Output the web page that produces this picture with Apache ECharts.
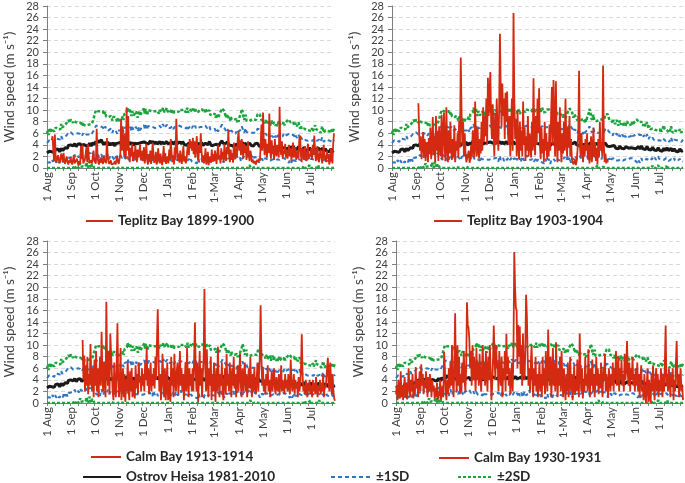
<!DOCTYPE html>
<html>
<head>
<meta charset="utf-8">
<script src="https://cdn.jsdelivr.net/npm/echarts@6/dist/echarts.min.js"></script>
<style>
  html, body { margin: 0; padding: 0; background: #fff; }
  #main { width: 685px; height: 483px; }
</style>
</head>
<body>
<div id="main"></div>
<script>
const _ = null;

// x axis: one category per day, 1 Aug .. 31 Jul
const monthStarts = [0, 31, 61, 92, 122, 153, 184, 212, 243, 273, 304, 334];
const monthLabels = ['1 Aug', '1 Sep', '1 Oct', '1 Nov', '1 Dec', '1 Jan', '1 Feb', '1-Mar', '1 Apr', '1 May', '1 Jun', '1 Jul'];
const yTicks = [0, 28, 2]; // min, max, step

// Ostrov Heisa 1981-2010 daily mean wind speed
const heisaMean = [
  2.6,2.8,2.5,2.9,3.0,2.7,2.8,3.1,2.9,2.7,3.0,3.2,2.9,3.1,3.3,3.0,2.8,3.1,3.4,3.2,3.0,3.3,3.1,3.5,3.2,3.6,3.4,3.9,4.1,3.8,4.0, // Aug
  3.9,4.1,3.8,4.0,4.2,3.9,3.7,4.0,4.1,3.8,3.9,4.2,4.0,3.7,3.9,4.1,3.8,4.0,3.9,4.2,4.0,3.8,4.1,4.3,4.0,3.8,4.1,4.4,4.2,4.0, // Sep
  4.3,4.6,4.2,4.5,4.8,4.4,4.1,4.6,4.9,4.5,4.2,4.0,4.4,4.7,4.3,4.1,4.5,4.2,3.9,4.3,4.6,4.2,4.0,4.4,4.1,3.8,4.2,4.0,3.9,4.3,4.1, // Oct
  4.0,4.4,4.2,3.9,4.3,4.1,4.5,4.2,4.0,4.6,4.8,4.4,4.1,4.5,4.3,4.0,4.4,4.2,3.9,4.3,4.1,4.4,4.2,3.9,4.1,4.3,4.0,4.2,4.4,4.1, // Nov
  4.3,4.5,4.2,4.6,4.3,4.1,4.4,4.2,4.5,4.7,4.3,4.1,4.4,4.6,4.2,4.0,4.3,4.5,4.1,4.4,4.2,4.6,4.3,4.1,4.5,4.8,4.4,4.2,4.5,4.3,4.6, // Dec
  4.2,4.4,4.1,4.3,4.0,4.2,4.5,4.1,3.9,4.3,4.6,4.4,4.2,4.0,4.3,4.5,4.8,4.4,4.2,4.6,4.3,4.1,4.4,4.2,3.9,4.2,4.0,4.3,4.1,4.4,4.2, // Jan
  4.0,4.3,4.1,3.9,4.2,4.0,3.8,4.1,4.3,4.0,3.9,4.2,4.4,4.1,3.9,4.2,4.0,4.3,4.5,4.2,4.0,4.3,4.6,4.2,4.0,3.8,4.1,3.9, // Feb
  4.0,4.2,3.9,4.1,4.4,4.0,3.8,4.2,4.5,4.1,4.7,4.3,4.0,4.4,4.2,3.9,4.1,4.5,4.2,4.0,3.8,4.1,3.9,4.2,4.0,3.7,4.0,3.8,4.1,3.9,4.2, // Mar
  4.0,4.3,4.1,3.9,4.2,4.4,4.1,3.9,4.3,4.6,4.2,4.0,3.8,4.1,4.3,4.0,3.9,4.2,4.1,3.8,4.0,4.2,3.9,4.1,4.3,4.0,3.8,4.1,3.9,3.7, // Apr
  3.9,3.6,3.8,3.5,3.7,3.9,3.6,3.4,3.7,3.5,3.3,3.6,3.8,3.5,3.4,3.7,3.5,3.3,3.6,3.4,3.7,3.9,3.6,3.4,3.3,3.6,3.5,3.8,3.6,3.4,3.7, // May
  3.5,3.3,3.6,3.4,3.7,3.5,3.3,3.6,3.8,3.5,3.3,3.6,3.4,3.2,3.5,3.7,3.4,3.2,3.5,3.3,3.1,3.4,3.6,3.3,3.1,3.4,3.2,3.0,3.3,3.5, // Jun
  3.2,3.0,3.3,3.1,2.9,3.2,3.4,3.1,3.0,3.3,3.5,3.2,3.0,2.9,3.2,3.4,3.1,2.9,3.0,3.3,3.1,2.9,3.2,3.0,2.8,3.1,3.3,3.0,2.9,3.1,3.0  // Jul
];

// Ostrov Heisa 1981-2010 daily standard deviation
const heisaSD = [
  1.7,1.8,1.6,1.9,1.7,1.8,2.0,1.7,1.9,1.8,1.6,1.9,2.0,1.8,1.7,2.0,1.9,1.8,2.1,1.9,2.0,1.8,2.1,2.0,2.2,2.1,2.3,2.2,2.1,2.0,2.2,
  2.1,2.2,2.0,2.1,1.9,2.0,2.1,1.8,1.9,2.0,1.8,1.7,1.9,1.8,1.7,1.9,1.8,1.7,1.8,1.6,1.8,1.9,1.7,1.6,1.8,1.9,1.7,1.8,1.9,2.0,
  2.6,2.7,2.8,2.6,2.5,2.7,2.9,2.6,2.5,2.7,2.8,2.6,2.4,2.5,2.3,2.4,2.2,2.3,2.4,2.1,2.2,2.3,2.1,2.2,2.4,2.5,2.3,2.2,2.0,2.2,2.1,
  2.2,2.1,2.0,2.2,2.3,2.1,2.4,2.6,2.7,2.5,2.8,2.6,2.7,2.9,2.6,2.5,2.7,2.8,2.6,2.4,2.6,2.7,2.5,2.4,2.6,2.8,2.5,2.4,2.6,2.7,
  2.7,2.9,2.6,2.8,2.7,2.5,2.8,2.9,2.7,2.6,2.8,3.0,2.7,2.5,2.8,2.9,2.6,2.7,2.9,2.8,2.6,2.7,2.9,2.8,2.6,2.8,3.0,2.7,2.6,2.8,2.9,
  2.8,2.7,2.9,2.6,2.8,3.0,2.7,2.6,2.9,2.8,2.6,2.7,2.9,3.0,2.7,2.8,2.6,2.8,2.9,2.7,2.9,3.0,2.8,2.7,2.9,3.1,2.8,2.7,3.0,2.9,2.8,
  2.9,3.0,2.8,2.9,3.1,2.8,3.0,2.9,2.7,3.0,3.1,2.9,2.8,3.0,3.2,2.9,2.8,3.0,2.9,2.7,2.8,2.6,2.7,2.5,2.6,2.7,2.5,2.6,
  2.5,2.6,2.4,2.6,2.5,2.3,2.5,2.6,2.4,2.7,2.8,3.0,3.1,2.7,2.5,2.4,2.6,2.5,2.3,2.4,2.2,2.4,2.3,2.1,2.2,2.3,2.0,2.1,2.2,2.0,2.1,
  2.0,2.2,2.4,2.8,3.0,2.7,2.4,2.2,2.1,2.3,2.0,2.1,2.2,2.0,1.9,2.1,2.2,2.0,2.1,2.3,2.1,2.0,2.2,2.3,2.5,2.7,2.9,2.6,2.4,2.3,
  2.3,2.4,2.2,2.1,2.3,2.2,2.0,2.1,2.3,2.2,2.0,2.1,2.2,2.0,1.9,2.1,2.2,2.0,2.1,1.9,2.0,2.1,2.2,2.0,2.1,1.9,2.0,2.1,1.9,2.0,2.1,
  2.2,2.3,2.4,2.5,2.3,2.2,2.4,2.3,2.1,2.2,2.0,2.1,2.2,2.0,1.9,2.1,2.0,1.8,1.9,1.7,1.8,1.7,1.6,1.8,1.7,1.6,1.8,1.7,1.6,1.5,
  1.6,1.7,1.8,1.6,1.7,1.9,2.0,1.8,1.7,1.6,1.5,1.7,1.8,1.6,1.7,1.9,1.8,1.6,1.7,1.6,1.8,1.7,1.6,1.8,1.7,1.6,1.7,1.8,1.6,1.7,1.9
];

// Teplitz Bay 1899-1900
const teplitz1899 = [
  _,_,_,_,_,_,4.8,5.5,3.0,1.2,5.8,2.0,1.0,1.5,2.2,1.4,0.8,1.6,2.5,1.8,1.0,2.6,1.2,0.7,1.5,2.0,1.1,0.6,1.3,0.9,1.8,
  1.0,0.6,1.4,2.2,0.8,0.5,1.1,1.6,0.9,0.4,1.2,0.7,3.8,1.5,4.0,0.8,0.6,1.4,2.4,3.6,1.0,4.1,2.0,0.9,0.7,1.3,0.8,1.9,3.0,1.2,
  1.0,0.8,6.8,2.5,1.0,0.6,1.5,0.9,1.8,1.2,0.7,2.2,1.0,1.6,0.8,5.2,2.0,1.1,0.7,0.5,1.3,0.6,0.9,0.4,0.8,1.2,0.6,0.9,2.0,1.1,0.7,
  1.5,2.5,8.5,3.0,7.2,4.0,2.0,6.0,1.5,10.5,3.0,9.0,2.2,1.0,3.5,2.0,4.2,1.2,2.8,1.6,3.9,2.4,1.0,3.2,1.8,2.6,4.1,1.3,2.2,3.0,
  1.2,3.6,0.8,2.0,4.2,1.5,0.6,2.4,1.0,3.0,0.7,1.8,4.4,2.2,0.9,1.4,2.8,0.6,1.1,3.4,1.6,0.8,2.5,1.2,0.5,1.9,3.8,1.0,2.6,0.7,1.5,
  2.0,0.8,3.2,1.4,5.0,2.6,1.0,2.2,0.6,3.6,1.5,8.5,4.0,1.2,2.5,0.9,3.0,1.6,0.7,2.4,3.8,1.1,2.0,0.8,1.4,3.2,4.1,2.2,5.0,3.4,4.6,
  3.0,5.2,2.4,4.6,1.8,3.8,5.5,2.0,1.2,4.0,2.6,6.0,3.0,1.0,2.2,0.8,1.6,3.4,0.6,1.2,2.8,0.5,1.4,2.0,0.9,3.2,1.1,2.4,
  1.2,3.0,1.8,0.7,2.6,4.0,1.5,2.2,0.8,3.4,1.6,2.8,1.0,4.2,2.0,1.2,3.6,2.4,6.6,2.0,1.0,3.2,1.4,2.6,0.9,4.4,2.2,1.5,3.8,2.0,5.0,
  6.4,3.0,4.8,2.2,5.0,3.4,1.6,4.2,2.6,3.8,1.4,2.8,4.6,2.0,1.2,3.0,2.2,1.0,1.5,0.8,1.2,0.9,0.6,1.4,1.0,0.8,1.6,1.2,4.0,7.5,
  3.0,9.6,4.5,2.2,5.0,3.2,1.8,4.2,2.6,9.4,3.0,1.6,4.8,2.4,3.6,1.4,5.0,2.8,2.0,4.0,3.0,1.8,10.6,3.4,2.2,4.6,1.6,3.0,2.4,4.2,1.8,
  3.2,1.6,2.6,4.0,2.0,3.4,1.2,2.8,4.4,1.8,2.4,3.6,1.4,2.0,3.0,1.6,5.0,5.6,2.2,1.0,3.4,2.6,1.4,3.8,2.0,1.2,2.8,4.2,1.6,2.4,
  2.0,3.4,1.4,4.0,2.2,5.6,3.0,1.2,2.6,3.8,1.6,1.0,2.4,3.2,1.8,0.8,2.8,4.0,1.4,2.2,1.0,3.0,1.6,2.4,0.6,1.2,3.4,2.0,0.8,4.2,6.0
];

// Teplitz Bay 1903-1904
const teplitz1903 = [
  _,_,_,_,_,_,_,_,_,_,_,_,_,_,_,_,_,_,_,_,_,_,_,_,_,_,_,_,_,_,_,
  _,_,11.2,6.0,3.0,5.5,1.5,4.2,6.2,2.0,5.0,1.2,3.8,4.5,1.0,5.2,2.4,7.0,1.5,4.0,8.8,2.2,5.6,1.0,9.0,3.0,6.4,1.2,7.2,4.0,
  2.0,9.2,1.5,6.0,9.6,3.0,1.2,10.5,4.0,1.0,6.5,2.5,8.0,3.2,1.4,5.0,2.0,7.4,1.0,4.6,3.0,6.0,1.8,8.2,3.5,19.1,9.6,4.0,8.0,2.0,6.0,
  2.5,1.0,0.8,1.2,3.0,0.9,1.5,4.0,2.0,6.5,3.0,1.8,11.5,4.0,2.0,7.0,3.2,1.6,5.0,2.5,8.0,3.0,10.5,4.5,9.0,5.5,12.0,4.0,15.6,9.0,
  13.0,16.6,8.0,5.0,11.0,6.0,2.0,9.5,4.0,12.0,6.5,3.0,10.0,23.2,13.5,7.0,14.6,9.0,12.0,5.0,13.0,8.0,13.2,6.0,4.0,9.0,2.0,7.5,12.0,3.0,26.8,
  12.0,5.0,8.5,2.0,10.0,4.0,1.5,8.0,3.0,6.5,2.0,11.5,4.0,7.0,1.2,5.5,3.0,9.0,2.0,6.0,4.5,1.8,8.0,3.0,15.5,5.0,2.2,9.0,4.0,12.0,6.0,
  13.8,4.0,1.5,7.0,2.5,5.0,1.0,8.0,3.0,6.0,1.5,4.5,2.0,7.5,3.0,9.0,14.0,4.0,15.2,8.0,2.0,15.0,5.0,1.0,8.0,3.0,10.5,4.0,
  1.0,6.0,2.5,8.0,3.0,12.0,5.0,2.0,7.0,3.5,9.0,2.0,5.0,1.5,1.0,0.6,0.8,1.5,0.5,1.2,3.0,6.0,16.8,4.0,2.0,6.0,3.0,1.0,4.0,2.0,5.0,
  3.0,6.0,1.5,4.0,0.8,2.5,5.5,1.0,3.0,7.0,2.0,4.5,1.2,3.5,0.6,5.0,2.0,8.0,3.0,4.5,2.0,17.7,4.0,1.0,2.5,0.8,1.5,1.0,_,_,
  _,_,_,_,_,_,_,_,_,_,_,_,_,_,_,_,_,_,_,_,_,_,_,_,_,_,_,_,_,_,_,
  _,_,_,_,_,_,_,_,_,_,_,_,_,_,_,_,_,_,_,_,_,_,_,_,_,_,_,_,_,_,
  _,_,_,_,_,_,_,_,_,_,_,_,_,_,_,_,_,_,_,_,_,_,_,_,_,_,_,_,_,_,_
];

// Calm Bay 1913-1914
const calm1913 = [
  _,_,_,_,_,_,_,_,_,_,_,_,_,_,_,_,_,_,_,_,_,_,_,_,_,_,_,_,_,_,_,
  _,_,_,_,_,_,_,_,_,_,_,_,_,_,10.9,4.0,8.2,2.0,6.5,3.0,8.0,1.5,5.0,3.0,10.2,4.5,2.0,6.0,1.0,7.5,
  3.0,9.0,2.0,6.0,1.0,4.5,8.0,3.0,12.3,5.0,2.0,7.0,4.0,1.0,17.5,6.0,3.0,9.0,1.5,12.0,11.8,5.0,2.0,0.5,7.0,3.0,1.0,6.0,13.8,4.0,1.0,
  4.0,9.5,0.5,3.0,6.0,1.0,5.0,0.2,4.0,2.0,7.0,3.0,0.5,5.5,2.0,6.0,1.0,4.0,3.0,0.8,6.5,2.5,5.0,1.5,7.0,3.5,4.5,2.0,6.0,3.0,
  5.0,2.0,7.0,4.0,9.6,3.0,6.0,1.5,4.5,7.0,2.0,5.0,3.0,6.0,2.5,8.0,4.0,11.0,16.2,8.0,2.0,5.0,0.5,3.0,8.5,4.0,1.0,6.0,0.5,3.0,7.0,
  0.5,1.0,4.0,0.2,8.0,3.0,6.0,1.0,8.5,4.0,2.0,5.5,7.0,1.5,4.0,9.0,3.0,6.0,2.0,5.0,0.5,3.5,7.0,2.0,9.5,4.0,1.0,6.0,3.0,5.0,2.0,
  6.0,2.0,8.0,13.9,5.0,2.0,7.0,0.2,4.0,9.0,3.0,6.0,1.0,5.0,8.0,19.7,6.0,2.0,9.3,4.0,1.0,6.0,3.0,8.0,0.5,5.0,2.0,7.0,
  3.0,0.2,6.0,2.0,9.7,4.0,1.0,5.0,3.0,7.0,2.0,0.5,4.0,6.0,1.5,8.5,3.0,5.0,2.0,7.0,4.0,1.0,6.0,3.0,8.0,2.5,5.0,1.0,4.0,6.5,2.0,
  5.0,8.6,3.0,1.0,6.0,2.0,4.5,7.0,2.0,5.0,1.0,3.5,6.0,2.5,8.0,3.0,1.0,5.0,2.0,6.0,3.0,1.5,4.0,7.0,2.0,5.0,8.0,16.9,8.0,3.0,
  6.0,2.0,4.0,1.5,5.0,3.0,6.5,2.0,4.0,1.0,3.0,5.5,2.0,4.0,6.0,2.5,1.5,4.5,3.0,2.0,5.0,1.5,3.5,6.5,2.0,4.0,3.0,1.5,5.0,2.5,4.0,
  2.0,5.0,3.0,1.5,7.5,4.0,2.0,3.0,5.0,1.5,4.0,2.5,3.5,1.0,4.5,2.0,3.0,6.0,11.9,5.0,2.0,3.0,1.5,4.0,2.5,1.0,3.5,2.0,4.0,1.5,
  3.0,1.0,4.0,2.0,3.5,1.5,4.5,2.5,1.0,3.0,2.0,4.0,1.5,3.5,2.0,5.0,1.0,3.0,2.5,4.0,6.0,7.8,3.0,2.0,7.0,4.0,1.5,5.0,2.0,0.8,0.4
];

// Calm Bay 1930-1931
const calm1930 = [
  1.5,3.0,0.5,4.0,2.0,0.8,5.5,1.0,3.0,0.5,2.5,4.5,1.0,3.5,0.6,2.0,6.0,3.0,1.0,4.0,2.0,5.0,0.8,3.0,1.5,6.2,2.5,4.0,1.0,3.0,5.5,
  2.0,6.7,3.0,5.0,1.5,4.0,2.5,5.5,3.0,1.0,4.5,2.0,5.0,3.5,1.0,4.0,2.0,3.0,0.8,2.5,1.0,3.5,0.5,2.0,1.2,4.0,0.6,1.5,3.0,1.0,
  8.8,6.0,2.0,0.5,4.0,1.5,6.0,2.5,7.0,3.0,10.0,4.0,1.0,6.0,15.5,5.0,2.0,10.0,3.0,8.0,1.5,5.0,2.0,7.0,3.5,9.0,4.0,2.0,6.0,17.4,13.5,
  13.0,11.0,6.0,9.0,3.0,10.0,4.0,8.0,5.0,2.0,9.5,4.0,7.0,3.0,8.5,5.0,2.0,6.0,10.0,4.0,7.0,3.0,9.0,5.0,2.0,8.0,4.0,10.0,6.0,0.5,
  3.0,7.0,13.4,8.0,4.0,10.0,6.0,7.0,2.0,9.0,5.0,3.0,8.0,1.0,6.0,4.0,9.0,2.0,12.0,5.0,8.0,3.0,6.0,1.5,4.0,7.0,2.0,9.0,26.1,20.0,16.5,
  16.0,6.0,13.5,8.0,13.2,5.0,10.0,3.0,12.0,6.0,4.0,9.0,18.7,15.0,8.0,3.0,6.0,2.0,7.0,10.0,4.0,1.0,6.0,3.0,8.0,2.0,5.0,1.0,4.0,7.0,2.0,
  5.0,1.0,8.0,3.0,6.0,1.5,9.0,4.0,2.0,12.7,6.0,3.0,8.0,1.0,5.0,9.5,3.0,7.0,2.0,10.5,5.0,1.0,6.0,3.0,8.0,2.0,9.0,4.0,
  1.0,6.0,3.0,0.5,5.0,2.0,7.0,1.0,4.0,8.0,2.0,5.0,0.5,3.0,6.5,1.5,4.0,2.0,7.5,3.0,1.0,12.0,5.0,2.0,6.0,0.8,4.0,2.0,8.0,3.0,5.0,
  2.0,9.3,4.0,1.0,6.0,3.0,7.5,2.0,5.0,1.0,4.0,8.0,3.0,6.0,1.5,5.0,2.5,7.0,3.0,1.0,6.0,4.0,8.5,2.0,5.0,3.0,1.0,6.0,4.0,2.0,
  5.0,3.0,7.0,2.0,6.0,4.0,9.0,3.0,5.0,8.0,2.0,6.0,4.0,7.5,3.0,5.0,2.0,8.5,4.0,6.0,10.7,5.0,3.0,7.0,2.0,6.0,4.0,8.0,3.0,5.0,2.0,
  6.0,3.0,7.0,2.0,5.0,1.0,4.0,6.5,2.0,3.0,0.5,5.0,2.0,0.0,3.0,6.0,0.2,4.0,1.0,0.0,5.0,2.0,6.5,3.0,0.5,4.0,6.0,2.0,5.0,1.0,
  4.0,2.0,6.0,3.0,1.0,5.0,2.0,7.0,13.4,3.0,5.0,2.0,6.0,4.0,1.0,5.0,3.0,6.0,0.5,4.0,2.0,7.0,10.7,3.0,5.0,1.0,4.0,6.0,2.0,3.0,0.5
];

const panels = [
  { name: 'Teplitz Bay 1899-1900', data: teplitz1899 },
  { name: 'Teplitz Bay 1903-1904', data: teplitz1903 },
  { name: 'Calm Bay 1913-1914', data: calm1913 },
  { name: 'Calm Bay 1930-1931', data: calm1930 }
];

const FONT = 'Lato, "Liberation Sans", sans-serif';
const RED = '#d42a12', BLUE = '#2e75c4', GREEN = '#1aa53c', BLACK = '#1a1a1a';
const grids = [
  { left: 47, top: 6, width: 287, height: 162 },
  { left: 392, top: 6, width: 291, height: 162 },
  { left: 47, top: 241, width: 288, height: 162 },
  { left: 396, top: 241, width: 287, height: 162 }
];

const days = heisaMean.map((v, i) => i);
// mean +/- k standard deviations, floored at zero
function band(k) {
  return heisaMean.map((m, i) => Math.max(0, +(m + k * heisaSD[i]).toFixed(2)));
}

const xAxes = [], yAxes = [], series = [];
panels.forEach((p, g) => {
  xAxes.push({
    type: 'category', gridIndex: g, data: days, boundaryGap: false,
    axisLine: { lineStyle: { color: '#7f7f7f', width: 1 } },
    axisTick: { show: true, length: 3, interval: (i) => i % 10 === 0, lineStyle: { color: '#7f7f7f' } },
    axisLabel: {
      rotate: 90, margin: 4, fontSize: 11.5, color: '#404040', fontFamily: FONT,
      interval: (i) => monthStarts.indexOf(i) >= 0,
      formatter: (v, i) => monthLabels[monthStarts.indexOf(i)] || ''
    },
    splitLine: { show: false }
  });
  yAxes.push({
    type: 'value', gridIndex: g, min: yTicks[0], max: yTicks[1], interval: yTicks[2],
    name: 'Wind speed (m s\u207B\u00B9)', nameLocation: 'middle', nameGap: 30,
    nameTextStyle: { fontSize: 13.5, color: '#404040', fontFamily: FONT },
    axisLine: { show: true, lineStyle: { color: '#7f7f7f' } },
    axisTick: { show: true, length: 4, lineStyle: { color: '#7f7f7f' } },
    axisLabel: {
      fontSize: 11, lineHeight: 10, color: '#404040', fontFamily: FONT, margin: 8,
      showMinLabel: true, showMaxLabel: true, hideOverlap: false
    },
    splitLine: { lineStyle: { color: '#d9d9d9', type: [4, 3] } }
  });
  const base = { type: 'line', xAxisIndex: g, yAxisIndex: g, symbol: 'none', showSymbol: false, silent: true, animation: false };
  series.push(
    Object.assign({}, base, { name: '±2SD', data: band(2), lineStyle: { color: GREEN, width: 2.5, type: [3, 2] }, itemStyle: { color: GREEN } }),
    Object.assign({}, base, { name: '±2SD', data: band(-2), lineStyle: { color: GREEN, width: 2.5, type: [3, 2] }, itemStyle: { color: GREEN } }),
    Object.assign({}, base, { name: '±1SD', data: band(1), lineStyle: { color: BLUE, width: 2, type: [4, 3] }, itemStyle: { color: BLUE } }),
    Object.assign({}, base, { name: '±1SD', data: band(-1), lineStyle: { color: BLUE, width: 2, type: [4, 3] }, itemStyle: { color: BLUE } }),
    Object.assign({}, base, { name: 'Ostrov Heisa 1981-2010', data: heisaMean, lineStyle: { color: BLACK, width: 3 }, itemStyle: { color: BLACK } }),
    Object.assign({}, base, { name: p.name, data: p.data, connectNulls: false, lineStyle: { color: RED, width: 1.8 }, itemStyle: { color: RED } })
  );
});

const legendText = { fontSize: 13.5, fontWeight: 'bold', color: '#262626', fontFamily: FONT };
function legendAt(name, left, top, w) {
  return {
    data: [name], left: left, top: top, padding: 0, itemWidth: w, itemHeight: 14,
    selectedMode: false, textStyle: legendText,
    itemStyle: { opacity: 0 }
  };
}

const chart = echarts.init(document.getElementById('main'), null, { renderer: 'canvas' });
chart.setOption({
  backgroundColor: '#ffffff',
  animation: false,
  textStyle: { fontFamily: FONT },
  grid: grids,
  xAxis: xAxes,
  yAxis: yAxes,
  legend: [
    legendAt(panels[0].name, 85, 214, 27),
    legendAt(panels[1].name, 433, 214, 28),
    legendAt(panels[2].name, 90, 450, 30),
    legendAt(panels[3].name, 438, 451, 30),
    legendAt('Ostrov Heisa 1981-2010', 82, 470, 38),
    legendAt('±1SD', 330, 470, 40),
    legendAt('±2SD', 457, 470, 34)
  ],
  series: series
});
</script>
</body>
</html>
